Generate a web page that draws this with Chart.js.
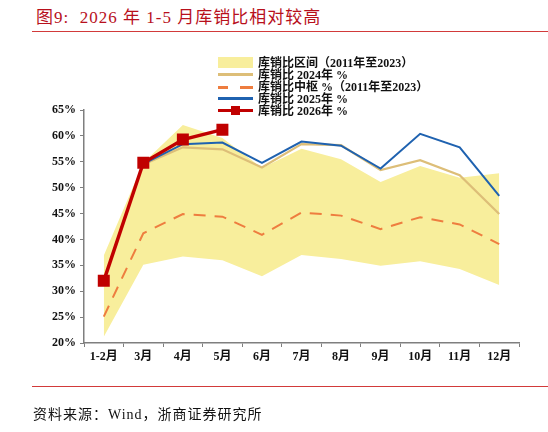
<!DOCTYPE html>
<html><head><meta charset="utf-8">
<script src="https://cdn.jsdelivr.net/npm/chart.js@4.4.1/dist/chart.umd.min.js"></script>
<style>
html,body{margin:0;padding:0;background:#fff;width:548px;height:432px;overflow:hidden;position:relative;
 font-family:"Liberation Serif","Noto Sans CJK SC",serif;}
#title{position:absolute;left:36px;top:3px;font-size:17px;letter-spacing:1px;color:#B8101C;white-space:nowrap;}
.rule{position:absolute;left:32px;width:516px;height:1px;background:#D23A3A;}
#src{position:absolute;left:33px;top:403px;font-size:14px;letter-spacing:1px;color:#111;white-space:nowrap;}
#legend{position:absolute;left:218px;top:57px;font-size:12px;font-weight:bold;color:#111;}
.li{height:12px;line-height:12px;position:relative;white-space:nowrap;margin-bottom:0;}
.sw{position:absolute;left:0;top:5px;width:35px;}
.lt{position:absolute;left:40px;top:0;}
canvas{position:absolute;left:0;top:0;}
</style></head><body>
<div id="title">图9:&nbsp;&nbsp;2026 年 1-5 月库销比相对较高</div>
<div class="rule" style="top:31px"></div>
<canvas id="c" width="548" height="432"></canvas>
<div id="legend"></div>
<div class="rule" style="top:386px"></div>
<div id="src">资料来源：Wind，浙商证券研究所</div>
<script>
const categories = ['1-2月','3月','4月','5月','6月','7月','8月','9月','10月','11月','12月'];
const bandUpper = [36.9, 54.8, 62.1, 59.6, 53.8, 57.5, 55.5, 51.1, 54.2, 51.9, 52.8];
const bandLower = [21.2, 35.1, 36.7, 36.0, 32.9, 37.0, 36.2, 34.9, 35.8, 34.3, 31.2];
const median = [25.1, 41.2, 44.9, 44.4, 40.9, 45.2, 44.6, 42.0, 44.3, 42.9, 39.1];
const y2024 = [null, 54.5, 57.8, 57.4, 53.9, 58.4, 58.2, 53.4, 55.3, 52.4, 44.9];
const y2025 = [null, 54.6, 58.4, 58.7, 54.8, 58.9, 58.1, 53.7, 60.4, 57.8, 48.4];
const y2026 = [32.0, 54.8, 59.3, 61.2];
const yTicks = [20, 25, 30, 35, 40, 45, 50, 55, 60, 65];
const legendLabels = ['库销比区间（2011年至2023）','库销比 2024年 %','库销比中枢 %（2011年至2023）','库销比 2025年 %','库销比 2026年 %'];

const C = {band:'#F8EE9C', tan:'#DDBE78', orange:'#EE7D3F', blue:'#1F62B0', red:'#C00000', axis:'#7F7F7F'};

// HTML legend
const lg = document.getElementById('legend');
const swatches = [
  `<div class="sw" style="top:0;height:11px;background:${C.band}"></div>`,
  `<div class="sw" style="height:3px;top:4px;background:${C.tan}"></div>`,
  `<div class="sw" style="height:0;top:5px;border-top:3px dashed ${C.orange};border-image:repeating-linear-gradient(90deg,${C.orange} 0 11px,transparent 11px 21px) 3;"></div>`,
  `<div class="sw" style="height:3px;top:4px;background:${C.blue}"></div>`,
  `<div class="sw" style="height:3px;top:4px;background:${C.red}"></div><div style="position:absolute;left:13px;top:1px;width:9px;height:9px;background:${C.red}"></div>`
];
legendLabels.forEach((t,i)=>{
  const d=document.createElement('div'); d.className='li';
  d.innerHTML = swatches[i] + `<span class="lt">${t}</span>`;
  lg.appendChild(d);
});

const font = {family:'"Liberation Serif","Noto Sans CJK SC",serif', size:12, weight:'bold'};
new Chart(document.getElementById('c'), {
  type:'line',
  data:{labels:categories, datasets:[
    {label:'2026', data:y2026, borderColor:C.red, backgroundColor:C.red, borderWidth:3.5,
     pointStyle:'rect', pointRadius:6, pointHoverRadius:6, order:0},
    {label:'2025', data:y2025, borderColor:C.blue, borderWidth:2, pointRadius:0, order:1},
    {label:'2024', data:y2024, borderColor:C.tan, borderWidth:2.2, pointRadius:0, order:2},
    {label:'median', data:median, borderColor:C.orange, borderWidth:2, borderDash:[12,9], pointRadius:0, order:3},
    {label:'upper', data:bandUpper, borderWidth:0, borderColor:'rgba(0,0,0,0)', backgroundColor:C.band, pointRadius:0, fill:'+1', order:4},
    {label:'lower', data:bandLower, borderWidth:0, borderColor:'rgba(0,0,0,0)', pointRadius:0, fill:false, order:5}
  ]},
  options:{
    responsive:false, animation:false, devicePixelRatio:1,
    layout:{padding:{left:34, right:29, top:110, bottom:59}},
    plugins:{legend:{display:false}, tooltip:{enabled:false}},
    elements:{line:{tension:0}},
    scales:{
      x:{offset:true,
         grid:{offset:true, drawOnChartArea:false, drawTicks:true, tickLength:4, color:C.axis},
         border:{color:C.axis, width:1.5},
         ticks:{color:'#111', font, padding:3, maxRotation:0, autoSkip:false},
         afterFit:s=>{s.height=30;}},
      y:{min:20, max:65,
         afterBuildTicks:s=>{s.ticks=yTicks.map(v=>({value:v}));},
         grid:{drawOnChartArea:false, drawTicks:true, tickLength:4, color:C.axis},
         border:{color:C.axis, width:1.5},
         ticks:{color:'#111', font, padding:4, callback:v=>v+'%'},
         afterFit:s=>{s.width=50;}}
    }
  }
});
</script>
</body></html>
